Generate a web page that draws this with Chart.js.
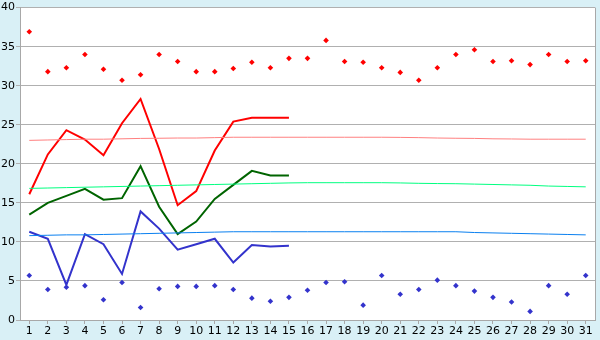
<!DOCTYPE html>
<html>
<head>
<meta charset="utf-8">
<script src="https://cdn.jsdelivr.net/npm/chart.js@4.4.0/dist/chart.umd.min.js"></script>
<style>
  html, body { margin: 0; padding: 0; background: #d9f0f6; }
  #wrap { width: 600px; height: 340px; }
</style>
</head>
<body>
<div id="wrap"><canvas id="chart" width="600" height="340"></canvas></div>
<script>
// day of month on the x axis
const days = Array.from({ length: 31 }, (_, i) => String(i + 1));

// scattered markers
const highDots = [36.9, 31.8, 32.3, 34.0, 32.1, 30.7, 31.4, 34.0, 33.1, 31.8,
  31.8, 32.2, 33.0, 32.3, 33.5, 33.5, 35.8, 33.1, 33.0, 32.3,
  31.7, 30.7, 32.3, 34.0, 34.6, 33.1, 33.2, 32.7, 34.0, 33.1, 33.2];
const lowDots = [5.7, 3.9, 4.2, 4.4, 2.6, 4.8, 1.6, 4.0, 4.3, 4.3,
  4.4, 3.9, 2.8, 2.4, 2.9, 3.8, 4.8, 4.9, 1.9, 5.7,
  3.3, 3.9, 5.1, 4.4, 3.7, 2.9, 2.3, 1.1, 4.4, 3.3, 5.7];

// the three lines, first 15 days only
const redLine = [16.1, 21.2, 24.3, 23.1, 21.1, 25.2, 28.3, 21.9, 14.7, 16.5, 21.7, 25.4, 25.9, 25.9, 25.9];
const greenLine = [13.5, 15.0, 15.9, 16.8, 15.4, 15.6, 19.7, 14.5, 11.0, 12.6, 15.5, 17.3, 19.1, 18.5, 18.5];
const blueLine = [11.3, 10.4, 4.5, 11.0, 9.7, 5.9, 13.9, 11.7, 9.0, 9.7, 10.4, 7.35, 9.6, 9.4, 9.5];

// thin trend lines over the whole month
const redTrend = [23.0, 23.05, 23.1, 23.15, 23.15, 23.2, 23.25, 23.27, 23.3, 23.3,
  23.35, 23.4, 23.4, 23.4, 23.4, 23.4, 23.4, 23.4, 23.4, 23.4,
  23.38, 23.35, 23.3, 23.27, 23.25, 23.2, 23.18, 23.15, 23.15, 23.15, 23.15];
const greenTrend = [16.85, 16.9, 16.95, 17.0, 17.05, 17.1, 17.15, 17.2, 17.25, 17.3,
  17.35, 17.4, 17.45, 17.5, 17.55, 17.58, 17.58, 17.58, 17.58, 17.58,
  17.55, 17.5, 17.47, 17.45, 17.4, 17.35, 17.3, 17.25, 17.15, 17.1, 17.05];
const blueTrend = [10.8, 10.85, 10.9, 10.9, 10.95, 11.0, 11.05, 11.1, 11.15, 11.2,
  11.25, 11.3, 11.3, 11.3, 11.3, 11.3, 11.3, 11.3, 11.3, 11.3,
  11.3, 11.3, 11.3, 11.3, 11.2, 11.15, 11.1, 11.05, 11.0, 10.95, 10.9];

const yTicks = [0, 5, 10, 15, 20, 25, 30, 35, 40];

// paints the white plot area and its grey frame
const plotFrame = {
  id: "plotFrame",
  beforeDraw(chart) {
    const { ctx, chartArea: a } = chart;
    ctx.save();
    ctx.fillStyle = "#d9f0f6";
    ctx.fillRect(0, 0, chart.width, chart.height);
    ctx.fillStyle = "#ffffff";
    ctx.fillRect(a.left, a.top, a.right - a.left, a.bottom - a.top);
    ctx.restore();
  },
  afterDraw(chart) {
    const { ctx, chartArea: a } = chart;
    ctx.save();
    ctx.strokeStyle = "#a8a8a8";
    ctx.lineWidth = 1;
    ctx.beginPath();
    ctx.moveTo(Math.round(a.right) + 0.5, a.top);
    ctx.lineTo(Math.round(a.right) + 0.5, a.bottom);
    ctx.stroke();
    ctx.restore();
  }
};

const lineSet = (data, color, width) => ({
  type: "line",
  data,
  borderColor: color,
  backgroundColor: color,
  borderWidth: width,
  pointRadius: 0,
  tension: 0,
  fill: false
});

const dotSet = (data, color) => ({
  type: "line",
  data,
  showLine: false,
  borderColor: color,
  backgroundColor: color,
  pointStyle: "rectRot",
  pointRadius: 2.8,
  pointBorderWidth: 0
});

new Chart(document.getElementById("chart"), {
  type: "line",
  data: {
    labels: days,
    datasets: [
      lineSet(redTrend, "#ff8080", 1),
      lineSet(greenTrend, "#00ff80", 1),
      lineSet(blueTrend, "#0a80f0", 1),
      lineSet(redLine, "#ff0000", 2),
      lineSet(greenLine, "#006400", 2),
      lineSet(blueLine, "#3333cc", 2),
      dotSet(highDots, "#ff0000"),
      dotSet(lowDots, "#3333cc")
    ]
  },
  options: {
    responsive: false,
    animation: false,
    layout: { padding: { top: 5, right: 5, left: 0, bottom: 0 } },
    plugins: { legend: { display: false }, tooltip: { enabled: false } },
    scales: {
      x: {
        offset: true,
        grid: { display: true, drawOnChartArea: false, offset: false, tickLength: 4, color: "#a8a8a8" },
        border: { color: "#a8a8a8" },
        ticks: { color: "#000", padding: 1, maxRotation: 0, autoSkip: false, font: { family: "DejaVu Sans", size: 11 } },
        afterFit(scale) { scale.height = 20; }
      },
      y: {
        min: 0,
        max: 40,
        afterBuildTicks(scale) { scale.ticks = yTicks.map(v => ({ value: v })); },
        grid: { color: "#b0b0b0", tickLength: 4 },
        border: { color: "#a8a8a8" },
        ticks: { color: "#000", padding: 1, font: { family: "DejaVu Sans", size: 11 } },
        afterFit(scale) { scale.width = 20; }
      }
    }
  },
  plugins: [plotFrame]
});
</script>
</body>
</html>
